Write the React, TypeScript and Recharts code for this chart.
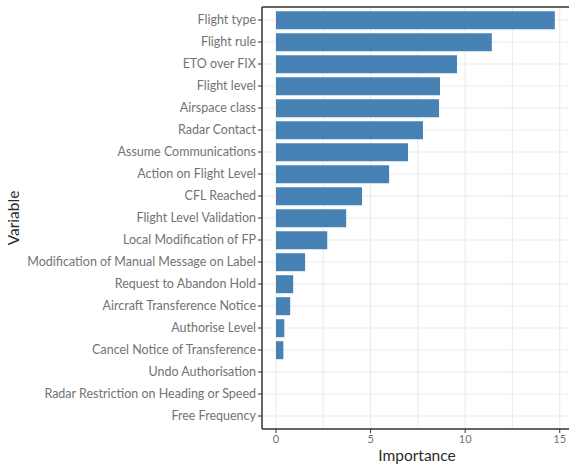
import * as React from "react";
import { BarChart, Bar, XAxis, YAxis, CartesianGrid, Customized, usePlotArea, useXAxisScale } from "recharts";

// ── Data ────────────────────────────────────────────────────────────────

const variables = [
  "Flight type", "Flight rule", "ETO over FIX", "Flight level", "Airspace class",
  "Radar Contact", "Assume Communications", "Action on Flight Level", "CFL Reached",
  "Flight Level Validation", "Local Modification of FP",
  "Modification of Manual Message on Label", "Request to Abandon Hold",
  "Aircraft Transference Notice", "Authorise Level", "Cancel Notice of Transference",
  "Undo Authorisation", "Radar Restriction on Heading or Speed", "Free Frequency",
];
const importance = [
  14.74, 11.41, 9.57, 8.67, 8.62, 7.77, 6.98, 5.98, 4.55, 3.71, 2.71,
  1.54, 0.91, 0.75, 0.44, 0.39, 0, 0, 0,
];
const xTicks = [0, 5, 10, 15];
const xGrid = [0, 2.5, 5, 7.5, 10, 12.5, 15];

const data = variables.map((name, i) => ({ name, value: importance[i] }));

const FONT = "Lato, 'Open Sans', sans-serif";
const BORDER = "#333333";
const GRID = "#ebebeb";
const TICK_TEXT = "#737373";
const TITLE_TEXT = "#2b2b2b";

// single-line category label (no wrapping)
function CategoryTick({ x, y, payload }: { x?: number; y?: number; payload?: { value: string } }) {
  return (
    <text x={x} y={y} dy="0.35em" textAnchor="end" fill={TICK_TEXT} fontSize={12.5} fontFamily={FONT}>
      {payload?.value}
    </text>
  );
}

// vertical grid lines (major + minor) through the x scale
function VerticalGrid() {
  const xScale = useXAxisScale();
  const plot = usePlotArea();
  if (!xScale || !plot) return null;
  // eslint-disable-next-line @typescript-eslint/no-explicit-any
  const xFn = xScale as any;
  return (
    <g>
      {xGrid.map((v) => {
        const x = xFn(v) as number;
        return <line key={v} x1={x} x2={x} y1={plot.y} y2={plot.y + plot.height} stroke={GRID} strokeWidth={1.1} />;
      })}
    </g>
  );
}

// top edge of the panel + axis titles
function PanelExtras() {
  const plot = usePlotArea();
  if (!plot) return null;
  const cy = plot.y + plot.height / 2;
  return (
    <g>
      <line x1={plot.x} x2={plot.x + plot.width} y1={plot.y} y2={plot.y} stroke={BORDER} strokeWidth={1.5} />
      <text x={417} y={461} textAnchor="middle" fill={TITLE_TEXT} fontSize={15.5} fontFamily={FONT}>Importance</text>
      <text x={19} y={cy} textAnchor="middle" transform={`rotate(-90 19 ${cy})`} fill={TITLE_TEXT} fontSize={15.5} fontFamily={FONT}>Variable</text>
    </g>
  );
}

export default function App() {
  return (
    <div style={{ position: "absolute", left: 0, top: 0, width: 569, height: 468, background: "#fff" }}>
      <BarChart
        width={569}
        height={468}
        data={data}
        layout="vertical"
        margin={{ top: 7, right: 0, bottom: 0, left: 0 }}
        barCategoryGap="10%"
        style={{ fontFamily: FONT }}
      >
        <CartesianGrid stroke={GRID} strokeWidth={1.1} vertical={false} />
        <Customized component={<VerticalGrid />} />
        <XAxis
          type="number"
          domain={[-0.74, 15.49]}
          allowDataOverflow
          ticks={xTicks}
          height={39}
          tickSize={4}
          tickLine={{ stroke: BORDER }}
          axisLine={{ stroke: BORDER, strokeWidth: 1.5 }}
          tick={{ fill: TICK_TEXT, fontSize: 11, fontFamily: FONT }}
        />
        <YAxis
          type="category"
          dataKey="name"
          width={262}
          padding={{ top: 2, bottom: 2 }}
          interval={0}
          tickSize={4}
          tickMargin={2}
          tickLine={{ stroke: BORDER }}
          axisLine={{ stroke: BORDER, strokeWidth: 1.5 }}
          tick={<CategoryTick />}
        />
        <Bar dataKey="value" fill="#4682B4" isAnimationActive={false} />
        <Customized component={<PanelExtras />} />
      </BarChart>
    </div>
  );
}
